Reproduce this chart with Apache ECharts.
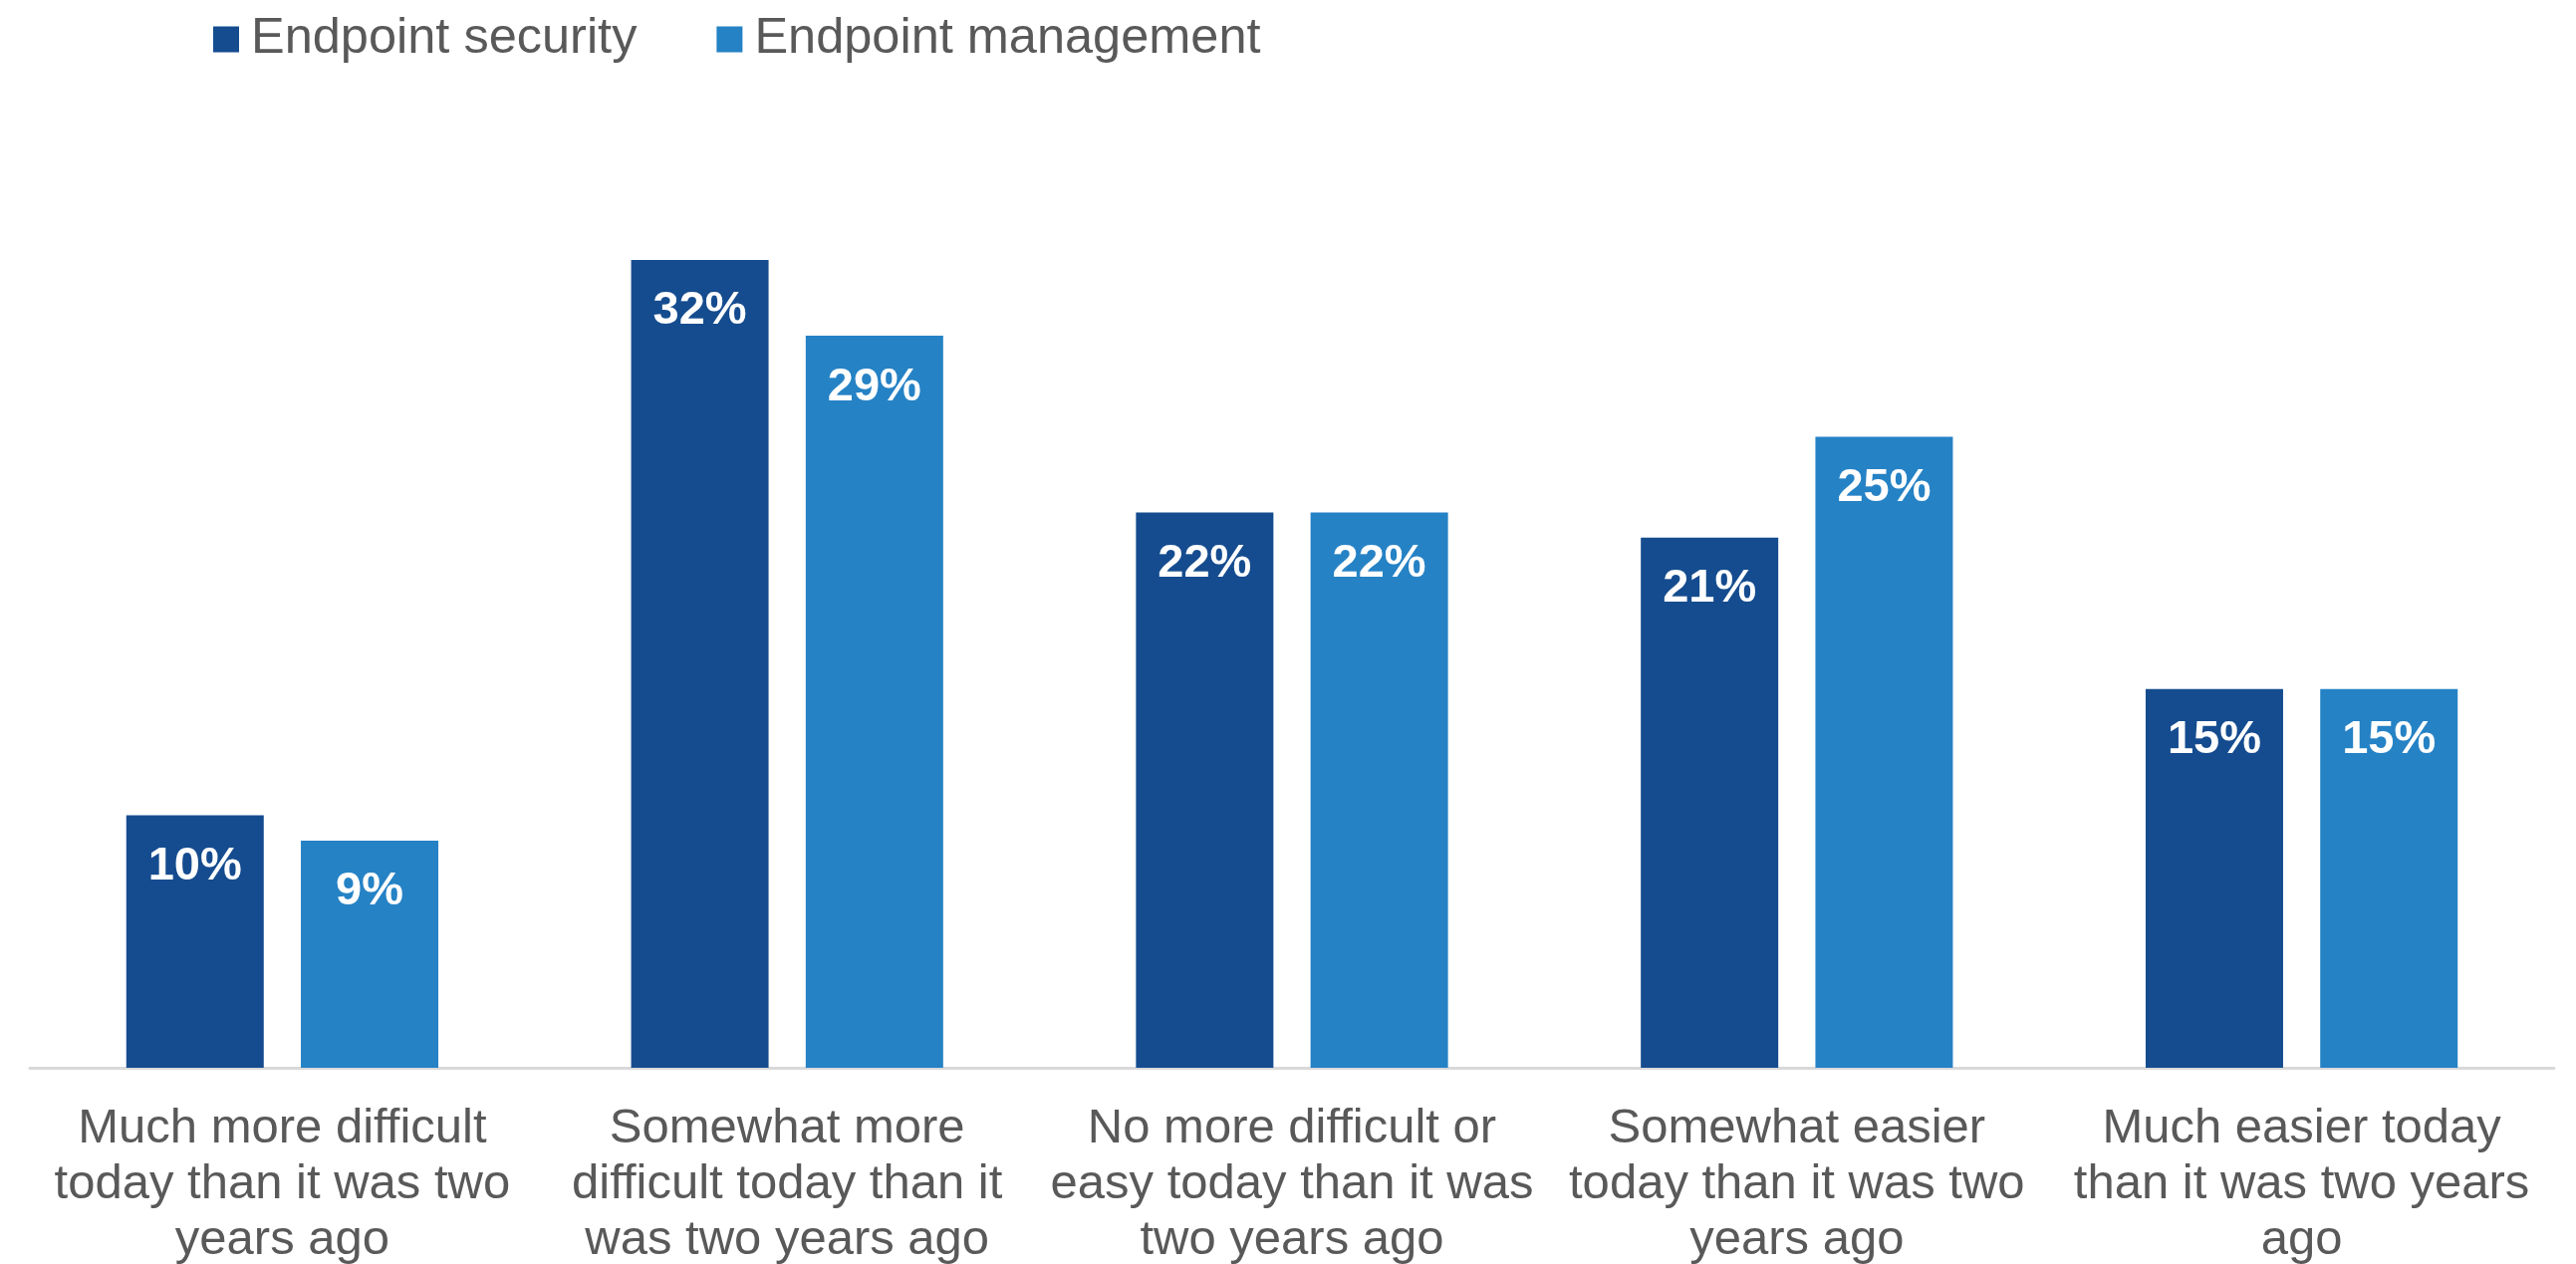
<!DOCTYPE html>
<html>
<head>
<meta charset="utf-8">
<script src="https://cdn.jsdelivr.net/npm/echarts@6/dist/echarts.min.js"></script>
<style>
html,body{margin:0;padding:0;background:#fff;}
#chart{width:2586px;height:1269px;}
</style>
</head>
<body>
<div id="chart"></div>
<script>
const categories = [
  "Much more difficult\ntoday than it was two\nyears ago",
  "Somewhat more\ndifficult today than it\nwas two years ago",
  "No more difficult or\neasy today than it was\ntwo years ago",
  "Somewhat easier\ntoday than it was two\nyears ago",
  "Much easier today\nthan it was two years\nago"
];
const seriesNames = ["Endpoint security", "Endpoint management"];
const endpointSecurity = [10, 32, 22, 21, 15];
const endpointManagement = [9, 29, 22, 25, 15];

const chart = echarts.init(document.getElementById('chart'), null, {renderer: 'canvas'});
const FONT = "'Liberation Sans', Arial, sans-serif";
const labelStyle = {
  show: true,
  position: 'insideTop',
  distance: 28,
  color: '#ffffff',
  fontWeight: 'bold',
  fontSize: 47,
  lineHeight: 47,
  fontFamily: FONT,
  formatter: p => p.value + '%'
};
chart.setOption({
  backgroundColor: '#ffffff',
  animation: false,
  legend: {
    left: 214,
    top: 14,
    padding: 0,
    itemWidth: 26,
    itemHeight: 26,
    itemGap: 80,
    icon: 'rect',
    data: seriesNames,
    textStyle: {
      fontSize: 50.5,
      lineHeight: 50,
      color: '#595959',
      fontFamily: FONT,
      padding: [0, 0, 0, 7]
    }
  },
  grid: {
    left: 30,
    right: 22,
    top: 185,
    bottom: 197,
    containLabel: false,
    outerBoundsMode: 'none'
  },
  xAxis: {
    type: 'category',
    data: categories,
    axisTick: {show: false},
    axisLine: {show: true, lineStyle: {color: '#D9D9D9', width: 3}},
    axisLabel: {
      interval: 0,
      margin: 33,
      fontSize: 49,
      lineHeight: 56,
      color: '#595959',
      fontFamily: FONT,
      align: 'center'
    }
  },
  yAxis: {
    type: 'value',
    min: 0,
    max: 35,
    show: false,
    splitLine: {show: false}
  },
  series: [
    {
      name: seriesNames[0],
      type: 'bar',
      data: endpointSecurity,
      barWidth: 138,
      barGap: '27%',
      itemStyle: {color: '#154C8F'},
      label: labelStyle
    },
    {
      name: seriesNames[1],
      type: 'bar',
      data: endpointManagement,
      barWidth: 138,
      itemStyle: {color: '#2582C5'},
      label: labelStyle
    }
  ]
});
</script>
</body>
</html>
